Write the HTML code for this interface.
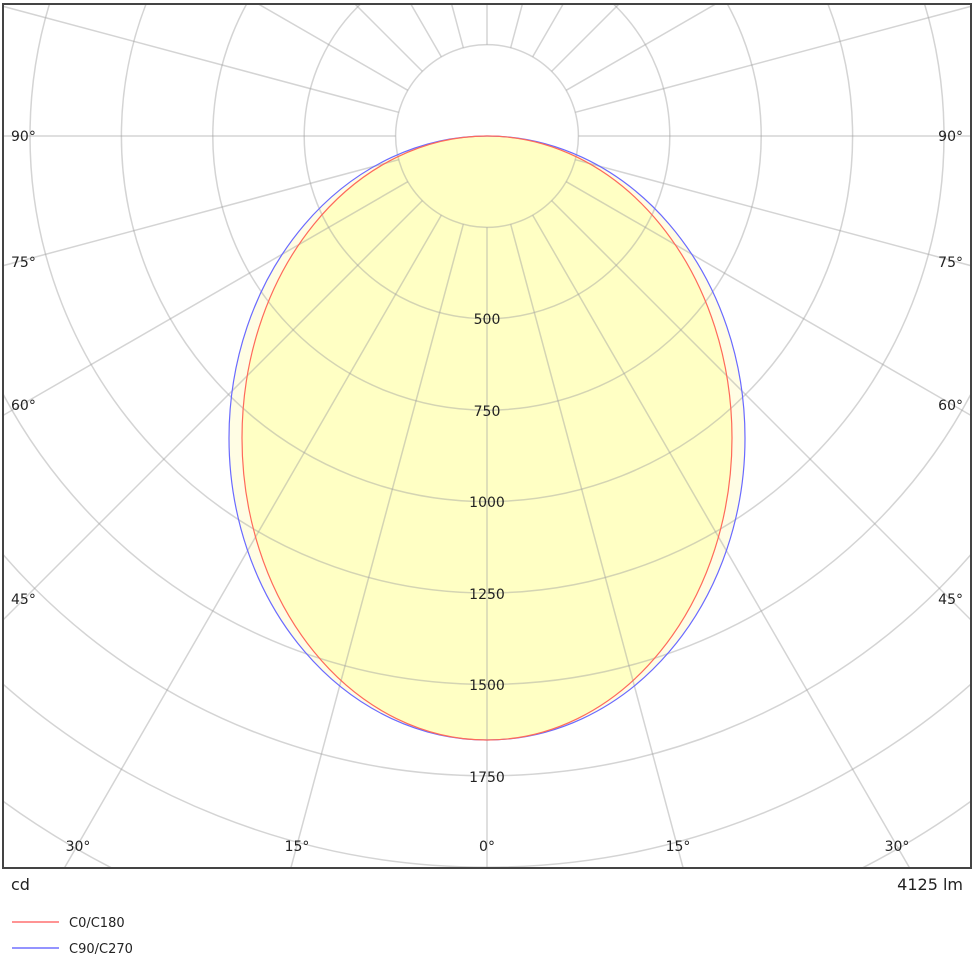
<!DOCTYPE html>
<html><head><meta charset="utf-8"><style>
html,body{margin:0;padding:0;background:#fff;width:974px;height:967px;overflow:hidden;}
svg{display:block;font-family:"DejaVu Sans","Liberation Sans",sans-serif;}
</style></head><body>
<svg width="974" height="967" viewBox="0 0 974 967" xmlns="http://www.w3.org/2000/svg">
<defs><clipPath id="c"><rect x="3" y="4" width="968" height="864"/></clipPath></defs>
<rect width="974" height="967" fill="#fff"/>
<g clip-path="url(#c)">
  <ellipse cx="487" cy="438" rx="258" ry="302" fill="#fffde4"/>
  <ellipse cx="487" cy="438" rx="245" ry="302" fill="#ffffc4"/>
  <g fill="none" stroke="#a0a0a0" stroke-opacity="0.45" stroke-width="1.5">
    <circle cx="487" cy="136" r="91.4"/><circle cx="487" cy="136" r="182.8"/>
    <circle cx="487" cy="136" r="274.2"/><circle cx="487" cy="136" r="365.6"/>
    <circle cx="487" cy="136" r="457"/><circle cx="487" cy="136" r="548.4"/>
    <circle cx="487" cy="136" r="639.8"/><circle cx="487" cy="136" r="731.2"/>
    <circle cx="487" cy="136" r="822.6"/><circle cx="487" cy="136" r="914"/>
    <path d="M487 227.4L487 1136M510.7 224.3L745.8 1101.9M532.7 215.2L987 1002M551.6 200.6L1194.1 843.1M566.2 181.7L1353 636M575.3 159.7L1452.9 394.8M578.4 136L1487 136M575.3 112.3L1452.9 -122.8M566.2 90.3L1353 -364M551.6 71.4L1194.1 -571.1M532.7 56.8L987 -730M510.7 47.7L745.8 -829.9M487 44.6L487 -864"/>
    <path d="M463.3 224.3L228.2 1101.9M441.3 215.2L-13 1002M422.4 200.6L-220.1 843.1M407.8 181.7L-379 636M398.7 159.7L-478.9 394.8M395.6 136L-513 136M398.7 112.3L-478.9 -122.8M407.8 90.3L-379 -364M422.4 71.4L-220.1 -571.1M441.3 56.8L-13 -730M463.3 47.7L228.2 -829.9"/>
  </g>
  <ellipse cx="487" cy="438" rx="258" ry="302" fill="none" stroke="#6a6aff" stroke-width="1.2"/>
  <ellipse cx="487" cy="438" rx="245" ry="302" fill="none" stroke="#ff6a5a" stroke-width="1.2"/>
</g>
<rect x="3" y="4" width="968" height="864" fill="none" stroke="#444" stroke-width="2"/>
<g font-size="14" fill="#222" text-anchor="middle">
  <text x="487" y="324">500</text><text x="487" y="416">750</text>
  <text x="487" y="507">1000</text><text x="487" y="599">1250</text>
  <text x="487" y="690">1500</text><text x="487" y="782">1750</text>
  <text x="78" y="851">30°</text><text x="297" y="851">15°</text>
  <text x="487" y="851">0°</text><text x="678" y="851">15°</text><text x="897" y="851">30°</text>
</g>
<g font-size="14" fill="#222">
  <text x="11" y="141">90°</text><text x="11" y="267">75°</text>
  <text x="11" y="410">60°</text><text x="11" y="604">45°</text>
</g>
<g font-size="14" fill="#222" text-anchor="end">
  <text x="963" y="141">90°</text><text x="963" y="267">75°</text>
  <text x="963" y="410">60°</text><text x="963" y="604">45°</text>
</g>
<text x="11" y="890" font-size="16" fill="#222">cd</text>
<text x="963" y="890" font-size="16" fill="#222" text-anchor="end">4125 lm</text>
<line x1="12" y1="922" x2="59" y2="922" stroke="#ff7070" stroke-width="1.5"/>
<line x1="12" y1="948" x2="59" y2="948" stroke="#7070ff" stroke-width="1.5"/>
<text x="69" y="927" font-size="13" fill="#222">C0/C180</text>
<text x="69" y="953" font-size="13" fill="#222">C90/C270</text>
</svg>
</body></html>
